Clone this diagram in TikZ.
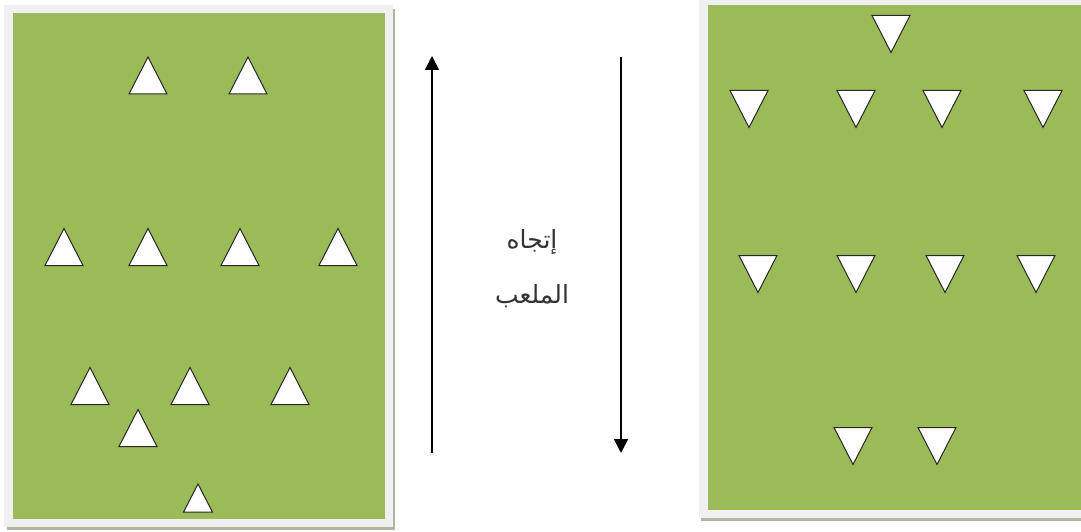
\documentclass[tikz,border=0pt]{standalone}
\usepackage{fontspec}
\newfontfamily\arabicfont[Script=Arabic]{DejaVu Sans}
\TeXXeTstate=1
\usetikzlibrary{arrows.meta}
\definecolor{pitch}{HTML}{9BBB59}
\definecolor{frame}{HTML}{F0F0F0}
\definecolor{rim}{HTML}{AEB8A0}
\tikzset{
  cone/.style={draw=black!85, fill=white, line width=1pt},
  cone up/.pic={\path[cone] (-19,18.5) -- (0,-18.5) -- (19,18.5) -- cycle;},
  cone down/.pic={\path[cone] (-19,-18.5) -- (0,18.5) -- (19,-18.5) -- cycle;},
  heading/.style={line width=1.8pt, -{Triangle[length=14pt,width=14pt]}},
  label/.style={font=\arabicfont\fontsize{25}{30}\selectfont, text=black!80}
}
\begin{document}
\begin{tikzpicture}[x=1pt,y=-1pt]
  \useasboundingbox (0,0) rectangle (1081,532);
  % Left field
  \fill[rim] (7,9) rectangle (395,530);
  \fill[frame] (4,5) rectangle (393,527);
  \fill[pitch] (13,13) rectangle (385,519);
  % Right field
  \fill[rim] (701,4) rectangle (1081,521);
  \fill[frame] (699,0) rectangle (1081,518);
  \fill[pitch] (708,5) rectangle (1081,510);
  % Cones of the left team
  \foreach \x/\y in {148/75.5, 248/75.5,
                     64/247, 148/247, 240/247, 338/247,
                     90/386, 190/386, 290/386,
                     138/428} {
    \pic at (\x,\y) {cone up};
  }
  \pic[scale=0.76] at (198,498) {cone up};
  % Cones of the right team
  \foreach \x/\y in {891/34,
                     749/109, 856/109, 942/109, 1043/109,
                     758/274, 856/274, 945/274, 1036/274,
                     853/446, 937/446} {
    \pic at (\x,\y) {cone down};
  }
  % Direction of play
  \coordinate (upS) at (432,453);
  \coordinate (upE) at (432,56);
  \coordinate (downS) at (621,57);
  \coordinate (downE) at (621,453);
  \draw[heading] (upS) -- (upE);
  \draw[heading] (downS) -- (downE);
  \node[label] (dir1) at (532,242) {\beginR إتجاه\endR};
  \node[label] (dir2) at (532,296) {\beginR الملعب\endR};
\end{tikzpicture}
\end{document}
